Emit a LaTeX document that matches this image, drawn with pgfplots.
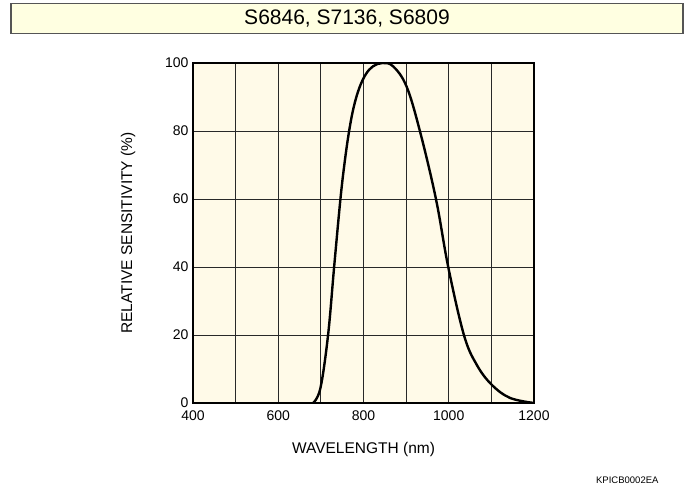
\documentclass[border=0pt]{standalone}
\usepackage{fontspec}
\setmainfont{Liberation Sans}
\usepackage{pgfplots}
\pgfplotsset{compat=1.18}
\definecolor{titlefill}{RGB}{255,255,225}
\definecolor{plotfill}{RGB}{255,250,232}
\definecolor{boxline}{RGB}{85,85,85}
\definecolor{gridc}{RGB}{40,40,40}
\begin{document}
\begin{tikzpicture}[x=1pt,y=1pt]
\path[use as bounding box] (0,0) rectangle (694,489);
% title box
\draw[boxline, line width=1.5pt, fill=titlefill] (11,455.5) rectangle (683,485.5);
\node[font=\fontsize{21}{24}\selectfont] at (347,470.5) {S6846, S7136, S6809};
\begin{axis}[
  at={(193pt,86pt)}, anchor=south west,
  scale only axis, width=341pt, height=340pt,
  xmin=400, xmax=1200, ymin=0, ymax=100,
  xtick={400,600,...,1200}, minor xtick={500,700,900,1100},
  ytick={0,20,...,100},
  grid=both,
  major grid style={gridc, line width=0.8pt},
  minor grid style={gridc, line width=0.8pt},
  major tick length=0pt, minor tick length=0pt,
  axis background/.style={fill=plotfill},
  axis line style={black, line width=1.3pt},
  /pgf/number format/assume math mode=true,
  /pgf/number format/1000 sep={},
  tick label style={font=\fontsize{14}{16}\selectfont},
  xticklabel style={yshift=-4pt},
  yticklabel style={xshift=-1pt},
  xlabel={WAVELENGTH (nm)},
  ylabel={RELATIVE SENSITIVITY (\%)},
  every axis x label/.style={at={(axis description cs:0.5,0)}, anchor=base,
    yshift=-51pt, font=\fontsize{15.5}{18}\selectfont},
  every axis y label/.style={at={(axis description cs:-0.1906,0.5)}, anchor=center,
    rotate=90, font=\fontsize{15.5}{18}\selectfont},
  clip=true,
]
\addplot[black, line width=2.4pt, smooth, tension=0.6] coordinates {
(681.8,0) (699.0,4.4) (716.9,20) (731.1,40) (745.9,60) (756,71)
(766.3,80) (777,87) (790,92.6) (805,96.6) (822,99) (844.6,100) (869.7,99)
(901,93.1) (932.3,80) (970,60) (998.8,40) (1035.6,20) (1065.4,11.3)
(1100.5,5.4) (1143.6,1.5) (1200,0)
};
\node[anchor=base east, font=\fontsize{13}{15}\selectfont] at (rel axis cs:1,1) [yshift=8pt] {(Ta=25 °C)};
\end{axis}
\node[anchor=base east, font=\fontsize{9.5}{11}\selectfont] at (662,5) {KPICB0002EA};
\end{tikzpicture}
\end{document}
